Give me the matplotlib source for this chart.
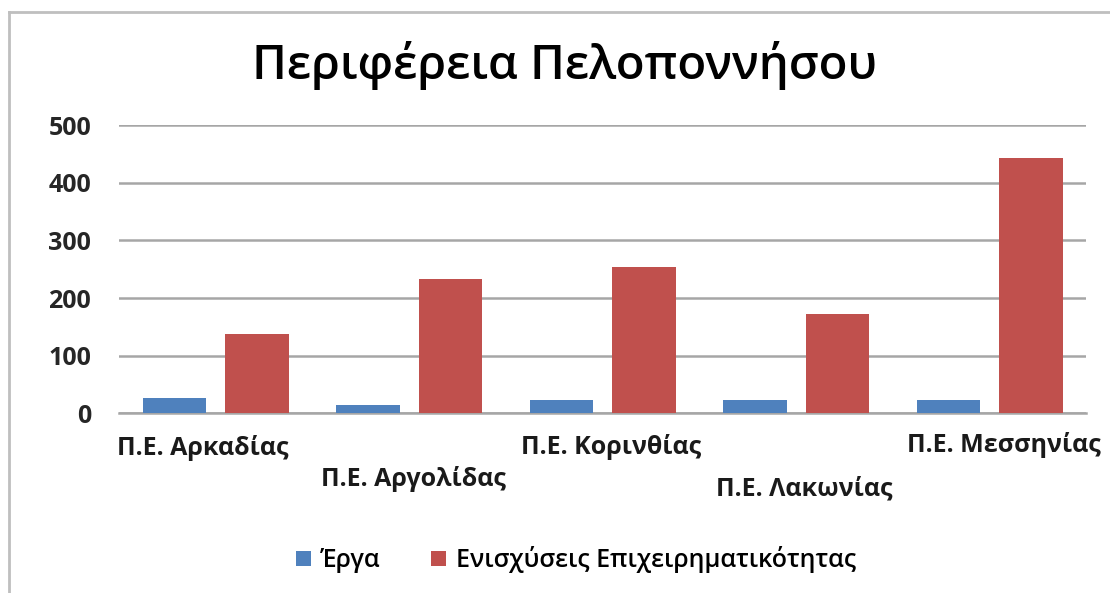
import matplotlib.pyplot as plt
import numpy as np
from matplotlib.lines import Line2D
from matplotlib.patches import Patch

# prefectures of the Peloponnese region
regions = [
    "Π.Ε. Αρκαδίας",
    "Π.Ε. Αργολίδας",
    "Π.Ε. Κορινθίας",
    "Π.Ε. Λακωνίας",
    "Π.Ε. Μεσσηνίας",
]
projects = [26, 14, 23, 23, 23]
business_support = [137, 233, 253, 173, 443]
y_ticks = [0, 100, 200, 300, 400, 500]

series_names = ["Έργα", "Ενισχύσεις Επιχειρηματικότητας"]
colors = ["#4f81bd", "#c0504d"]

plt.rcParams["font.family"] = ["Open Sans", "DejaVu Sans"]

fig = plt.figure(figsize=(11.1, 5.93), dpi=100)
ax = fig.add_axes([0.1072, 0.303, 0.8716, 0.486])

x = np.arange(len(regions))
bar_width = 0.33
offset = 0.213

ax.bar(x - offset, projects, bar_width, color=colors[0], zorder=3)
ax.bar(x + offset, business_support, bar_width, color=colors[1], zorder=3)

ax.set_xlim(-0.5, len(regions) - 0.5)
ax.set_ylim(0, 500)
ax.set_yticks(y_ticks)
ax.set_yticklabels([str(v) for v in y_ticks], fontsize=18, fontweight="bold",
                   color="#262626")
ax.tick_params(axis="y", length=0, pad=20)
ax.set_xticks([])

ax.grid(axis="y", color="#a6a6a6", linewidth=1.8, zorder=0)
for side in ("top", "right", "left"):
    ax.spines[side].set_visible(False)
ax.spines["bottom"].set_color("#a6a6a6")
ax.spines["bottom"].set_linewidth(1.8)

# staggered category labels under the axis (baseline offsets in points)
label_shift = [(-9, -30), (3, -52), (6, -29), (6, -59), (10, -28)]
for xi, name, (dx, dy) in zip(x, regions, label_shift):
    ax.annotate(name, xy=(xi, 0), xycoords=("data", "axes fraction"),
                xytext=(dx, dy), textcoords="offset points",
                ha="center", va="baseline", fontsize=18, fontweight="bold",
                color="#1a1a1a", annotation_clip=False)

fig.text(0.509, 0.89, "Περιφέρεια Πελοποννήσου", ha="center", va="center",
         fontsize=34, fontweight="semibold", color="black")

handles = [Patch(facecolor=c, edgecolor="none") for c in colors]
fig.legend(handles, series_names, loc="center", bbox_to_anchor=(0.519, 0.056),
           ncol=2, frameon=False, fontsize=18, handlelength=0.6,
           handleheight=0.6, handletextpad=0.4, columnspacing=2.0,
           prop={"size": 18, "weight": "semibold"})

# outer chart frame (top and left edges)
frame_color = "#bfbfbf"
fig.add_artist(Line2D([0.008, 1.0], [0.979, 0.979], transform=fig.transFigure,
                      color=frame_color, linewidth=2))
fig.add_artist(Line2D([0.008, 0.008], [0.0, 0.979], transform=fig.transFigure,
                      color=frame_color, linewidth=2))

fig.savefig("out.png", dpi=100, facecolor="white")
